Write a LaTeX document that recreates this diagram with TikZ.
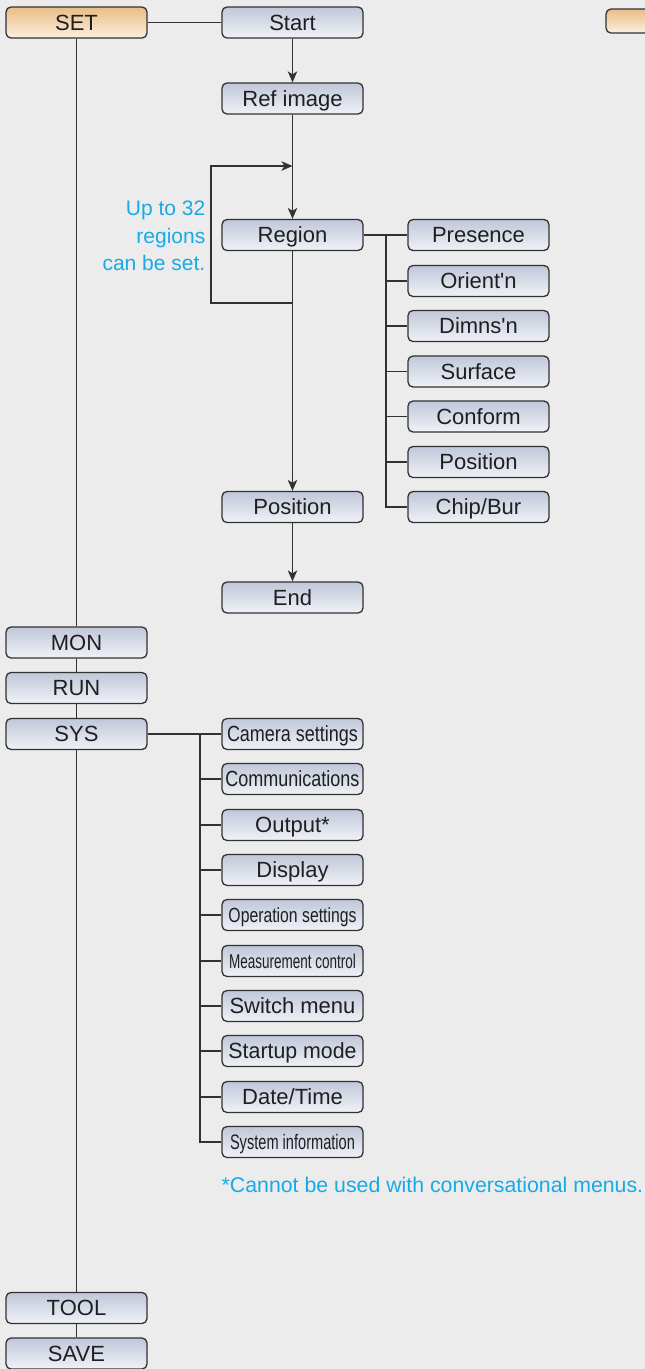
\documentclass[tikz,border=0pt]{standalone}
\usepackage{fontspec}
\newfontfamily\arial{Liberation Sans}
\usepackage{graphicx}
\usetikzlibrary{arrows.meta}
\definecolor{bg}{RGB}{236,236,236}
\definecolor{btop}{RGB}{192,199,217}
\definecolor{bbot}{RGB}{240,242,247}
\definecolor{otop}{RGB}{234,189,133}
\definecolor{obot}{RGB}{252,239,224}
\definecolor{edgec}{RGB}{50,50,50}
\definecolor{notec}{RGB}{24,170,230}
\newcommand{\cx}[2]{\resizebox{#1}{\height}{#2}}
\begin{document}
\begin{tikzpicture}[x=1pt,y=-1pt,
 menubox/.style={draw=edgec, line width=1.3pt, rounded corners=5pt, top color=btop, bottom color=bbot, minimum width=141pt, minimum height=31pt, inner sep=0pt, text height=15.8pt, text depth=0pt, font=\arial\fontsize{22}{26}\selectfont, text=black!88},
 topbox/.style={menubox, top color=otop, bottom color=obot},
 link/.style={draw=edgec, line width=1.3pt},
 arr/.style={link, -{Stealth[length=11pt,width=9.5pt,inset=3pt]}},
 notetext/.style={text=notec, font=\arial\fontsize{21}{27.5}\selectfont}]
\fill[bg] (0,0) rectangle (645,1369);
\useasboundingbox (0,0) rectangle (645,1369);
\clip (0,0) rectangle (645,1369);
% left column
\node[topbox] (set) at (76.5,22.5) {SET};
\node[menubox] (mon) at (76.5,642.5) {MON};
\node[menubox] (run) at (76.5,688) {RUN};
\node[menubox] (sys) at (76.5,734) {SYS};
\node[menubox] (tool) at (76.5,1308) {TOOL};
\node[menubox] (save) at (76.5,1353.5) {SAVE};
\node[topbox, minimum height=24pt] (partial) at (676.5,21) {};
% SET branch
\node[menubox] (start) at (292.5,22.5) {Start};
\node[menubox] (ref) at (292.5,98.5) {Ref image};
\node[menubox] (region) at (292.5,235) {Region};
\node[menubox] (pos) at (292.5,507) {Position};
\node[menubox] (endn) at (292.5,597.5) {End};
\node[menubox] (presence) at (478.5,235) {Presence};
\node[menubox] (orient) at (478.5,281) {Orient'n};
\node[menubox] (dimns) at (478.5,326) {Dimns'n};
\node[menubox] (surface) at (478.5,371.5) {Surface};
\node[menubox] (conform) at (478.5,416.5) {Conform};
\node[menubox] (position2) at (478.5,462) {Position};
\node[menubox] (chip) at (478.5,507) {Chip/Bur};
% SYS branch
\node[menubox] (cam) at (292.5,734) {\cx{131pt}{Camera settings}};
\node[menubox] (comm) at (292.5,779) {\cx{134pt}{Communications}};
\node[menubox] (outp) at (292.5,825) {Output*};
\node[menubox] (disp) at (292.5,870) {Display};
\node[menubox, font=\arial\fontsize{20.5}{24}\selectfont, text height=14.7pt] (oper) at (292.5,915) {\cx{128pt}{Operation settings}};
\node[menubox, font=\arial\fontsize{20}{24}\selectfont, text height=14.3pt] (meas) at (292.5,961) {\cx{127pt}{Measurement control}};
\node[menubox] (switch) at (292.5,1006) {Switch menu};
\node[menubox] (startup) at (292.5,1051) {\cx{128pt}{Startup mode}};
\node[menubox] (date) at (292.5,1097) {Date/Time};
\node[menubox, font=\arial\fontsize{21}{24}\selectfont, text height=15pt] (sysinfo) at (292.5,1142) {\cx{125pt}{System information}};
% notes
\node[notetext, align=right, anchor=east, inner sep=0pt] (note1) at (205.5,236) {Up to 32\\regions\\can be set.};
\node[notetext, font=\arial\fontsize{21.3}{25}\selectfont, anchor=west, inner sep=0pt] (foot) at (221.5,1185) {*Cannot be used with conversational menus.};
% connectors left column
\draw[link] (set.east) -- (start.west);
\draw[link] (set.south) -- (mon.north);
\draw[link] (mon.south) -- (run.north);
\draw[link] (run.south) -- (sys.north);
\draw[link] (sys.south) -- (tool.north);
\draw[link] (tool.south) -- (save.north);
% SET flow
\draw[arr] (start.south) -- (ref.north);
\draw[arr] (ref.south) -- (region.north);
\coordinate (lb) at (292.5,303);
\coordinate (lbl) at (211,303);
\coordinate (ltl) at (211,166);
\coordinate (lt) at (292.5,166);
\draw[arr] (lb) -- (lbl) -- (ltl) -- (lt);
\draw[arr] (region.south) -- (pos.north);
\draw[arr] (pos.south) -- (endn.north);
% region branch
\coordinate (rb) at (386,235);
\draw[link] (region.east) -- (presence.west);
\draw[link] (rb) |- (chip.west);
\foreach \n in {orient,dimns,surface,conform,position2}
  \draw[link] (\n.west -| rb) -- (\n.west);
% SYS branch
\coordinate (sb) at (200,734);
\draw[link] (sys.east) -- (cam.west);
\draw[link] (sb) |- (sysinfo.west);
\foreach \n in {comm,outp,disp,oper,meas,switch,startup,date}
  \draw[link] (\n.west -| sb) -- (\n.west);
\end{tikzpicture}
\end{document}
